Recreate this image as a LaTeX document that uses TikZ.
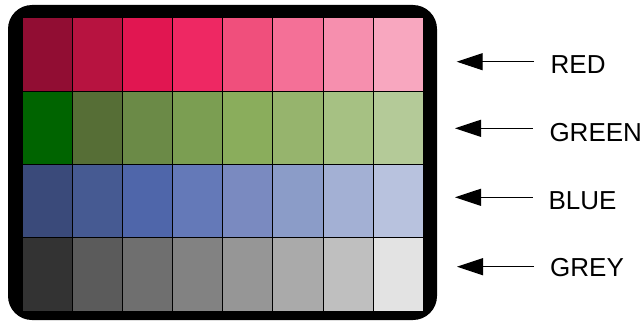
\documentclass[tikz,border=0pt]{standalone}
\usepackage{fontspec}
\setmainfont{Liberation Sans}
\usetikzlibrary{arrows.meta}
\definecolor{c11}{HTML}{910D33}\definecolor{c12}{HTML}{B71340}\definecolor{c13}{HTML}{E11651}\definecolor{c14}{HTML}{EE2863}
\definecolor{c15}{HTML}{F04F7C}\definecolor{c16}{HTML}{F47097}\definecolor{c17}{HTML}{F68FAE}\definecolor{c18}{HTML}{F8A7BF}
\definecolor{c21}{HTML}{006400}\definecolor{c22}{HTML}{566E36}\definecolor{c23}{HTML}{6B8A47}\definecolor{c24}{HTML}{7B9E52}
\definecolor{c25}{HTML}{8AAD5C}\definecolor{c26}{HTML}{96B46D}\definecolor{c27}{HTML}{A6C183}\definecolor{c28}{HTML}{B4CA98}
\definecolor{c31}{HTML}{3A4A7A}\definecolor{c32}{HTML}{465A92}\definecolor{c33}{HTML}{4F66AA}\definecolor{c34}{HTML}{6479B8}
\definecolor{c35}{HTML}{7A8AC0}\definecolor{c36}{HTML}{8B9CC8}\definecolor{c37}{HTML}{A3B0D4}\definecolor{c38}{HTML}{B8C2DE}
\definecolor{c41}{HTML}{333333}\definecolor{c42}{HTML}{5B5B5B}\definecolor{c43}{HTML}{6F6F6F}\definecolor{c44}{HTML}{828282}
\definecolor{c45}{HTML}{969696}\definecolor{c46}{HTML}{AAAAAA}\definecolor{c47}{HTML}{BFBFBF}\definecolor{c48}{HTML}{E3E3E3}
\begin{document}
\begin{tikzpicture}[x=1pt,y=-1pt,
  cell/.style={draw=black,line width=0.9pt},
  lbl/.style={anchor=base west,inner sep=0pt,font=\fontsize{26}{30}\selectfont},
  arr/.style={line width=1pt,-{Triangle[length=26pt,width=17pt]}}]
\useasboundingbox (0,0) rectangle (644,321);
\fill[black,rounded corners=24pt] (8,5) rectangle (437,320);
\foreach \r in {1,...,4}{
  \foreach \c in {1,...,8}{
    \pgfmathsetmacro{\xa}{22.3+(\c-1)*50.125}
    \pgfmathsetmacro{\ya}{17.7+(\r-1)*73.325}
    \filldraw[cell,fill=c\r\c] (\xa,\ya) rectangle ++(50.125,73.325);
  }
}
\node[lbl] (red) at (550.5,74) {RED};
\node[lbl] (green) at (549.3,141.7) {GREEN};
\node[lbl] (blue) at (548.3,209.3) {BLUE};
\node[lbl] (grey) at (550,276.7) {GREY};
\coordinate (redS) at (534,61.7);   \coordinate (redT) at (456.7,61.7);
\coordinate (greenS) at (532.7,128.3); \coordinate (greenT) at (455,128.3);
\coordinate (blueS) at (532.7,197.3);  \coordinate (blueT) at (455,197.3);
\coordinate (greyS) at (534,266.7);   \coordinate (greyT) at (457,266.7);
\draw[arr] (redS) -- (redT);
\draw[arr] (greenS) -- (greenT);
\draw[arr] (blueS) -- (blueT);
\draw[arr] (greyS) -- (greyT);
\end{tikzpicture}
\end{document}
